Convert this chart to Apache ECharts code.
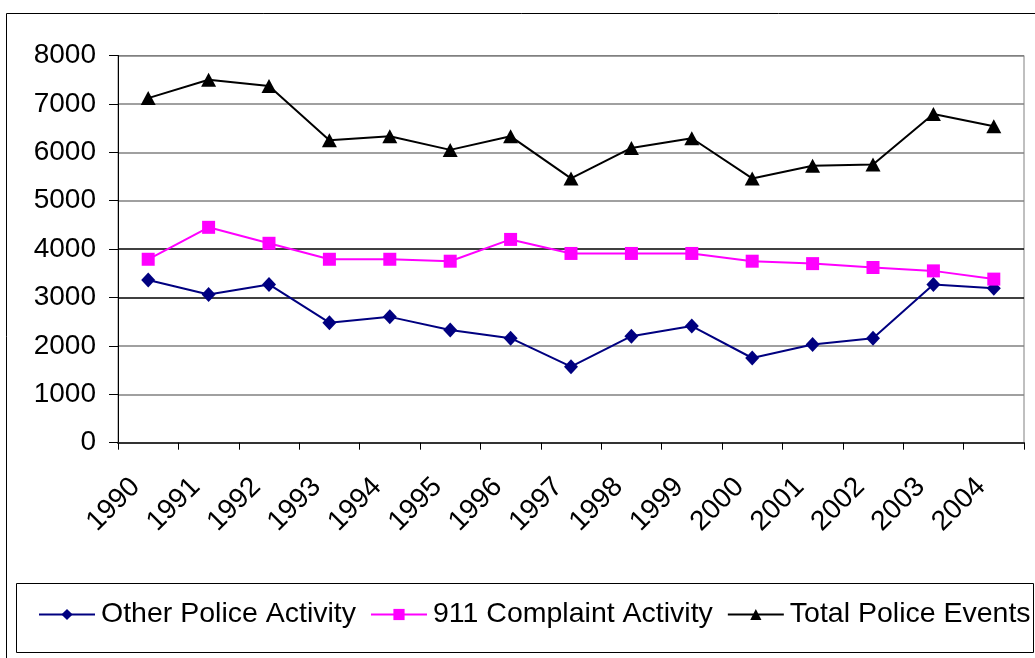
<!DOCTYPE html>
<html>
<head>
<meta charset="utf-8">
<script src="https://cdn.jsdelivr.net/npm/echarts@6/dist/echarts.min.js"></script>
<style>
html,body{margin:0;padding:0;background:#fff;}
#chart{width:1035px;height:658px;}
</style>
</head>
<body>
<div id="chart"></div>
<script>
const years = ['1990','1991','1992','1993','1994','1995','1996','1997','1998','1999','2000','2001','2002','2003','2004'];
const otherPolice = [3360,3060,3270,2480,2600,2330,2160,1570,2200,2410,1750,2030,2160,3270,3190];
const complaint911 = [3790,4450,4120,3790,3790,3750,4200,3910,3910,3910,3750,3700,3620,3550,3380];
const totalEvents = [7120,7500,7370,6250,6330,6050,6330,5460,6090,6290,5460,5720,5750,6790,6540];
const seriesNames = ['Other Police Activity','911 Complaint Activity','Total Police Events'];

const FONT = '"Liberation Sans", Arial, sans-serif';
const chart = echarts.init(document.getElementById('chart'), null, {renderer:'canvas'});
const gridColors = ['#808080','#808080','#808080','#000000','#000000','#808080','#808080','#808080','#808080'];

chart.setOption({
  backgroundColor:'#ffffff',
  animation:false,
  graphic:[
    {type:'rect', left:4, top:11, shape:{x:0,y:0,width:1060,height:700}, style:{fill:null, stroke:'#000', lineWidth:1}, silent:true, z:-10},
    {type:'rect', left:14, top:581, shape:{x:0,y:0,width:1017,height:69}, style:{fill:null, stroke:'#000', lineWidth:1}, silent:true, z:-10}
  ],
  grid:{left:118, right:11, top:55.5, bottom:215.3, show:true, borderColor:'#808080', borderWidth:1, containLabel:false},
  legend:{
    left:38, top:600, itemWidth:56, itemHeight:14, itemGap:14, padding:0,
    textStyle:{fontFamily:FONT, fontSize:28.5, color:'#000', padding:[0,0,0,1]},
    data:seriesNames
  },
  xAxis:{
    type:'category', data:years, boundaryGap:true,
    axisLine:{lineStyle:{color:'#333', width:2}},
    axisTick:{show:true, alignWithLabel:false, length:7, lineStyle:{color:'#000', width:1}},
    axisLabel:{rotate:45, margin:27, fontFamily:FONT, fontSize:28, color:'#000', interval:0, padding:[0,18,0,0]}
  },
  yAxis:{
    type:'value', min:0, max:8000, interval:1000,
    axisLine:{show:true, lineStyle:{color:'#000', width:1}},
    axisTick:{show:true, length:9, lineStyle:{color:'#000'}},
    axisLabel:{fontFamily:FONT, fontSize:28, color:'#000', margin:22, formatter:function(v){return String(v);}},
    splitLine:{show:true, lineStyle:{color:gridColors, width:1.5}}
  },
  series:[
    {name:seriesNames[0], type:'line', data:otherPolice, symbol:'diamond', symbolSize:[14,15],
     lineStyle:{color:'#000080', width:2}, itemStyle:{color:'#000080'}, z:3},
    {name:seriesNames[1], type:'line', data:complaint911, symbol:'rect', symbolSize:13,
     lineStyle:{color:'#FF00FF', width:2}, itemStyle:{color:'#FF00FF'}, z:3},
    {name:seriesNames[2], type:'line', data:totalEvents, symbol:'triangle', symbolSize:[15,14],
     lineStyle:{color:'#000000', width:2}, itemStyle:{color:'#000000'}, z:3}
  ]
});
</script>
</body>
</html>
